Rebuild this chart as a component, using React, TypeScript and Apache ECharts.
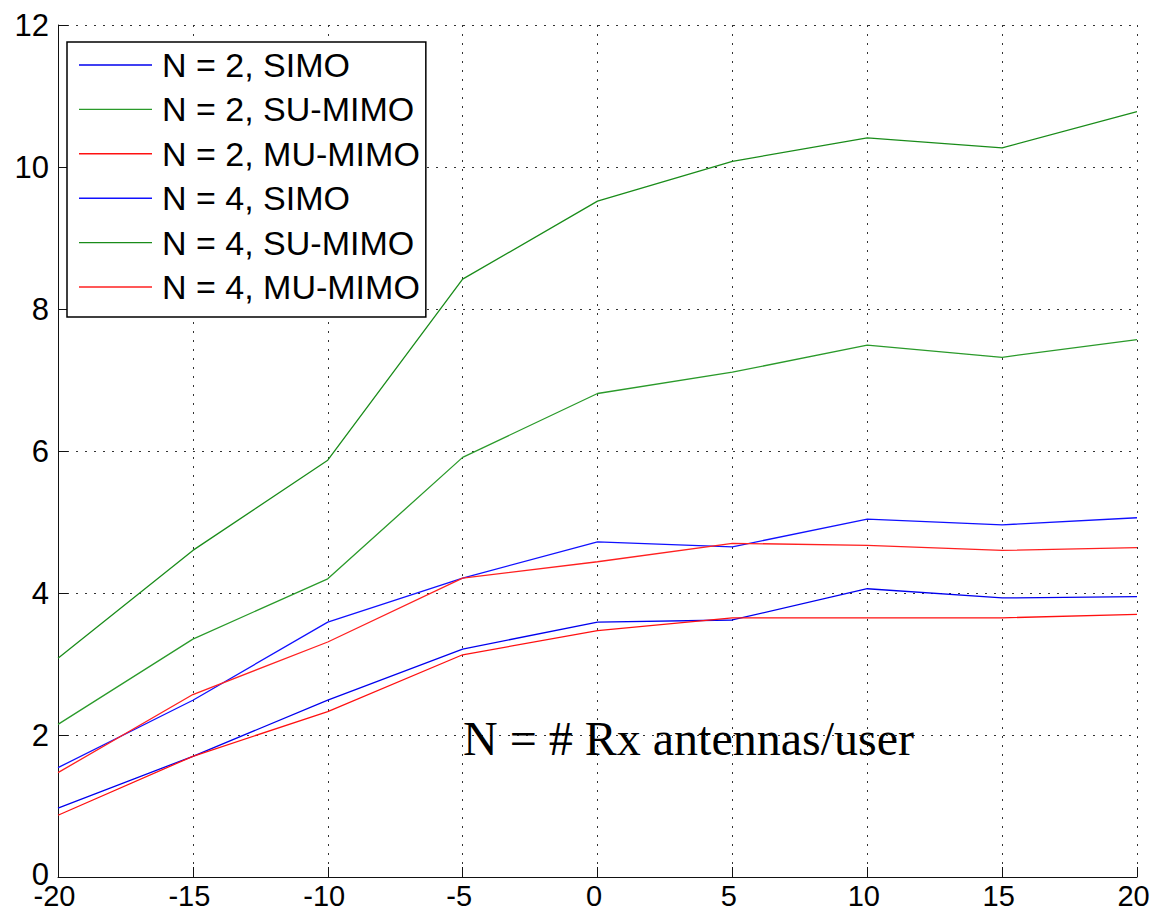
import React, { useEffect, useRef } from "react";
import * as echarts from "echarts";

const xValues = [-20, -15, -10, -5, 0, 5, 10, 15, 20];
const n2Simo = [0.97, 1.7, 2.49, 3.21, 3.59, 3.62, 4.06, 3.93, 3.95];
const n2SuMimo = [2.15, 3.35, 4.2, 5.91, 6.81, 7.11, 7.49, 7.32, 7.57];
const n2MuMimo = [0.87, 1.7, 2.33, 3.13, 3.47, 3.65, 3.65, 3.65, 3.7];
const n4Simo = [1.54, 2.49, 3.59, 4.21, 4.72, 4.65, 5.04, 4.96, 5.06];
const n4SuMimo = [3.08, 4.6, 5.87, 8.42, 9.52, 10.08, 10.41, 10.27, 10.78];
const n4MuMimo = [1.47, 2.57, 3.31, 4.21, 4.44, 4.7, 4.67, 4.6, 4.64];

const seriesNames = [
  "N = 2, SIMO",
  "N = 2, SU-MIMO",
  "N = 2, MU-MIMO",
  "N = 4, SIMO",
  "N = 4, SU-MIMO",
  "N = 4, MU-MIMO",
];
const seriesValues = [n2Simo, n2SuMimo, n2MuMimo, n4Simo, n4SuMimo, n4MuMimo];
const seriesColors = ["#0000ee", "#2a9a2a", "#ff1010", "#1010ff", "#1a8c1a", "#ff2020"];
const annotation = "N = # Rx antennas/user";

export default function App() {
  const ref = useRef<HTMLDivElement>(null);
  useEffect(() => {
    if (!ref.current) return;
    const chart = echarts.init(ref.current, null, { renderer: "svg" });
    const sans = "'Liberation Sans', Arial, Helvetica, sans-serif";
    const gridLine = { show: true, lineStyle: { color: "#333", width: 1, type: [2, 7] as any } };
    chart.setOption({
      animation: false,
      backgroundColor: "#ffffff",
      grid: {
        left: 58,
        right: 19,
        top: 25,
        bottom: 37,
        containLabel: false,
        outerBoundsMode: "none",
      },
      xAxis: {
        type: "value",
        min: -20,
        max: 20,
        interval: 5,
        axisLine: { show: true, onZero: false, lineStyle: { color: "#111", width: 1 } },
        axisTick: { show: true, inside: true, length: 10, lineStyle: { color: "#111" } },
        axisLabel: {
          color: "#000",
          fontFamily: sans,
          fontSize: 29,
          lineHeight: 24,
          margin: 7,
          padding: [0, 7, 0, 0],
        },
        splitLine: gridLine,
      },
      yAxis: {
        type: "value",
        min: 0,
        max: 12,
        interval: 2,
        axisLine: { show: true, onZero: false, lineStyle: { color: "#111", width: 1 } },
        axisTick: { show: true, inside: true, length: 10, lineStyle: { color: "#111" } },
        axisLabel: {
          color: "#000",
          fontFamily: sans,
          fontSize: 31,
          lineHeight: 24,
          margin: 9,
          formatter: (v: number) => (v === 0 ? "{z|0}" : String(v)),
          rich: {
            z: {
              color: "#000",
              fontFamily: sans,
              fontSize: 31,
              lineHeight: 24,
              padding: [0, 0, 6, 0],
            },
          },
        },
        splitLine: gridLine,
      },
      legend: {
        orient: "vertical",
        left: 67,
        top: 42,
        padding: [6, 6, 13, 12],
        icon: "rect",
        itemWidth: 73,
        itemHeight: 1.4,
        itemGap: 10.4,
        backgroundColor: "#ffffff",
        borderColor: "#000",
        borderWidth: 1.5,
        selectedMode: false,
        textStyle: {
          color: "#000",
          fontFamily: sans,
          fontSize: 34,
          lineHeight: 34,
          padding: [0, 0, 0, 5],
        },
        data: seriesNames,
      },
      graphic: [
        {
          type: "text",
          x: 463,
          y: 738,
          z: 10,
          style: {
            text: annotation,
            fill: "#000",
            font: "48px 'Liberation Serif', 'Times New Roman', serif",
            align: "left",
            verticalAlign: "middle",
          },
        },
      ],
      series: seriesNames.map((name, i) => ({
        name,
        type: "line",
        data: xValues.map((x, j) => [x, seriesValues[i][j]]),
        symbol: "none",
        showSymbol: false,
        color: seriesColors[i],
        lineStyle: { color: seriesColors[i], width: 1.3 },
        emphasis: { disabled: true },
      })),
    });
    return () => chart.dispose();
  }, []);
  return (
    <div
      ref={ref}
      style={{ position: "fixed", left: 0, top: 0, width: "1156px", height: "914px" }}
    />
  );
}
